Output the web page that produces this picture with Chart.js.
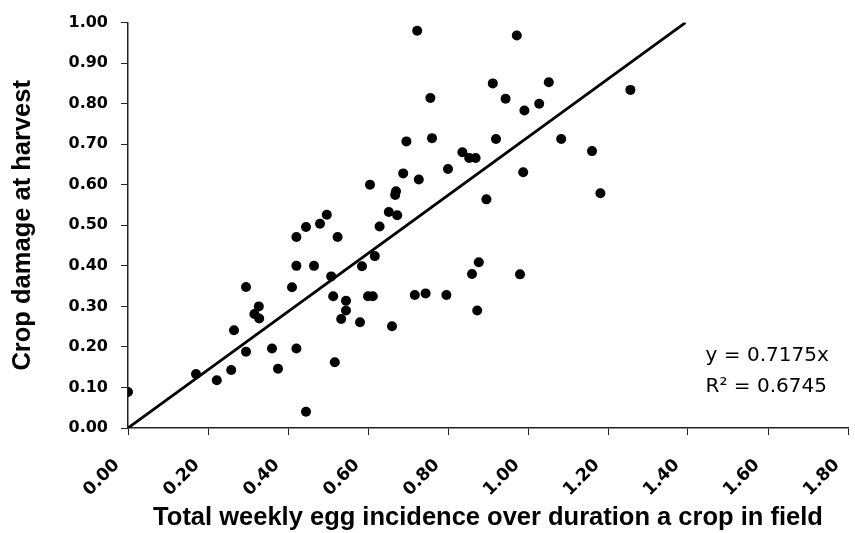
<!DOCTYPE html>
<html>
<head>
<meta charset="utf-8">
<script src="https://cdn.jsdelivr.net/npm/chart.js@4"></script>
<style>
  html, body { margin: 0; padding: 0; background: #fff; }
  #wrap { width: 855px; height: 533px; }
</style>
</head>
<body>
<div id="wrap"><canvas id="eggChart" width="855" height="533"></canvas></div>
<script>
// egg incidence (x) vs crop damage (y)
const eggIncidence = [
  0.000, 0.170, 0.222, 0.258, 0.265, 0.295, 0.295, 0.316, 0.327, 0.328,
  0.360, 0.375, 0.410, 0.421, 0.421, 0.421, 0.445, 0.445, 0.465, 0.480,
  0.497, 0.524, 0.508, 0.513, 0.517, 0.533, 0.545, 0.545, 0.585, 0.580,
  0.600, 0.612, 0.617, 0.629, 0.652, 0.673, 0.660, 0.605, 0.670, 0.668,
  0.688, 0.696, 0.727, 0.723, 0.717, 0.744, 0.756, 0.760, 0.796, 0.800,
  0.836, 0.853, 0.869, 0.860, 0.877, 0.873, 0.896, 0.912, 0.920, 0.944,
  0.972, 0.980, 0.988, 0.991, 1.028, 1.052, 1.083, 1.160, 1.181, 1.256
];
const cropDamage = [
  0.089, 0.133, 0.118, 0.143, 0.241, 0.188, 0.348, 0.281, 0.300, 0.270,
  0.196, 0.146, 0.347, 0.471, 0.400, 0.196, 0.496, 0.040, 0.400, 0.504,
  0.526, 0.471, 0.374, 0.325, 0.162, 0.269, 0.314, 0.290, 0.399, 0.261,
  0.325, 0.325, 0.424, 0.497, 0.533, 0.525, 0.251, 0.600, 0.584, 0.575,
  0.628, 0.707, 0.613, 0.980, 0.328, 0.332, 0.814, 0.715, 0.328, 0.639,
  0.680, 0.666, 0.666, 0.380, 0.409, 0.290, 0.564, 0.850, 0.713, 0.812,
  0.968, 0.379, 0.631, 0.783, 0.800, 0.853, 0.713, 0.683, 0.579, 0.834
];

// fitted line through the origin, from the label on the chart
const trendSlope = 0.7175;
const trendRsq = 0.6745;
const trendX = [0, 1.3937];

const xTicks = [0, 0.2, 0.4, 0.6, 0.8, 1.0, 1.2, 1.4, 1.6, 1.8];
const yTicks = [0, 0.1, 0.2, 0.3, 0.4, 0.5, 0.6, 0.7, 0.8, 0.9, 1.0];

const points = eggIncidence.map((x, i) => ({ x: x, y: cropDamage[i] }));
const trendPoints = trendX.map((x) => ({ x: x, y: trendSlope * x }));

const tickFont = { family: "DejaVu Sans", size: 16, weight: "bold" };
const titleFont = { family: "Liberation Sans", size: 25.5, weight: "bold" };

const equationLabel = {
  id: "equationLabel",
  afterDraw(chart) {
    const c = chart.ctx;
    const xs = chart.scales.x;
    const ys = chart.scales.y;
    const left = xs.getPixelForValue(1.444);
    c.save();
    c.fillStyle = "#000";
    c.font = "20px 'DejaVu Sans'";
    c.textAlign = "left";
    c.textBaseline = "alphabetic";
    c.fillText("y = " + trendSlope + "x", left, ys.getPixelForValue(0.165));
    c.fillText("R\u00b2 = " + trendRsq, left, ys.getPixelForValue(0.088));
    c.restore();
  },
};

const ctx = document.getElementById("eggChart");

new Chart(ctx, {
  type: "scatter",
  data: {
    datasets: [
      {
        label: "Crop damage",
        data: points,
        backgroundColor: "#000",
        borderColor: "#000",
        borderWidth: 0,
        pointRadius: 5,
      },
      {
        label: "Linear fit",
        data: trendPoints,
        showLine: true,
        borderColor: "#000",
        borderWidth: 2.8,
        pointRadius: 0,
        fill: false,
      },
    ],
  },
  options: {
    responsive: false,
    animation: false,
    layout: { padding: { top: 22, right: 7, bottom: 0, left: 0 } },
    plugins: {
      legend: { display: false },
      tooltip: { enabled: false },
    },
    scales: {
      x: {
        type: "linear",
        min: 0,
        max: 1.8,
        afterBuildTicks: (s) => { s.ticks = xTicks.map((v) => ({ value: v })); },
        afterFit: (s) => {
          s.height = 105;
          s.paddingLeft = 0;
          s.paddingRight = 0;
        },
        grid: { display: true, drawOnChartArea: false, drawTicks: true, tickLength: 7, color: "#222" },
        border: { display: true, color: "#222", width: 1.5 },
        ticks: {
          autoSkip: false,
          minRotation: 45,
          maxRotation: 45,
          padding: 20,
          labelOffset: -11,
          color: "#000",
          font: { family: "DejaVu Sans", size: 17.5, weight: "bold" },
          callback: (v) => Number(v).toFixed(2),
        },
        title: {
          display: true,
          text: "Total weekly egg incidence over duration a crop in field",
          color: "#000",
          font: titleFont,
          padding: { top: 0, bottom: 0 },
        },
      },
      y: {
        type: "linear",
        min: 0,
        max: 1,
        afterBuildTicks: (s) => { s.ticks = yTicks.map((v) => ({ value: v })); },
        afterFit: (s) => { s.width = 128; },
        grid: { display: true, drawOnChartArea: false, drawTicks: true, tickLength: 7, color: "#222" },
        border: { display: true, color: "#222", width: 1.5 },
        ticks: {
          padding: 13,
          color: "#000",
          font: tickFont,
          callback: (v) => Number(v).toFixed(2),
        },
        title: {
          display: true,
          text: "Crop damage at harvest",
          color: "#000",
          font: titleFont,
          padding: { top: 8, bottom: 0 },
        },
      },
    },
  },
  plugins: [equationLabel],
});
</script>
</body>
</html>
